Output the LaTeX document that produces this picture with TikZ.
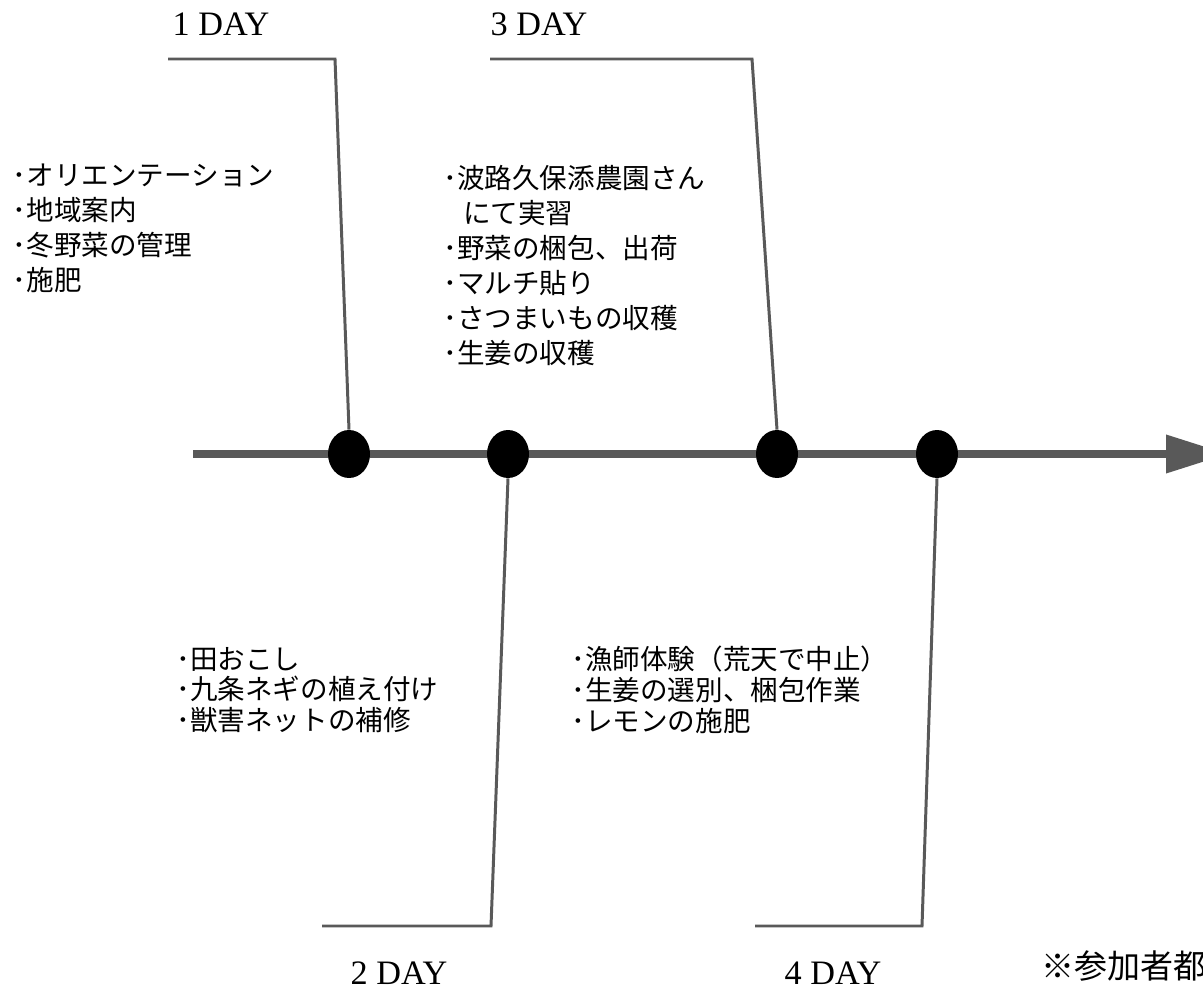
\documentclass[tikz,border=0pt]{standalone}
\usepackage{fontspec}
\setmainfont{Liberation Serif}
\newfontfamily\jp{Noto Sans CJK JP}
\usetikzlibrary{arrows.meta,shapes.geometric}
\definecolor{axisgray}{HTML}{595959}
\tikzset{
  daydot/.style={shape=ellipse, fill=black, inner sep=0pt, minimum width=0.84cm, minimum height=0.96cm},
  conn/.style={draw=axisgray, line width=1.7pt},
  timeaxis/.style={draw=axisgray, line width=4pt, -{Triangle[length=1.24cm,width=0.74cm]}},
  daylabel/.style={font=\fontsize{19.5}{23}\selectfont, inner sep=0pt},
  itemsup/.style={font=\jp\fontsize{15.7}{19.9}\selectfont, align=left, anchor=north west, inner sep=0pt},
  itemslow/.style={font=\jp\fontsize{15.7}{17.4}\selectfont, align=left, anchor=north west, inner sep=0pt},
  notetext/.style={font=\jp\fontsize{18.8}{22}\selectfont, anchor=north west, inner sep=0pt}
}
\begin{document}
\begin{tikzpicture}[x=0.02cm, y=-0.02cm]
\path[use as bounding box] (0,0) rectangle (1203,989);
\clip (0,0) rectangle (1203,989);
% axis
\coordinate (axstart) at (193,454);
\coordinate (axend) at (1228,454);
\draw[timeaxis] (axstart) -- (axend);
% dots
\node[daydot] (d1) at (349,454) {};
\node[daydot] (d2) at (508,454) {};
\node[daydot] (d3) at (777,454) {};
\node[daydot] (d4) at (937,454) {};
% connectors
\coordinate (c1a) at (168,59);
\coordinate (c1b) at (335,59);
\draw[conn] (c1a) -- (c1b) -- (d1.north);
\coordinate (c3a) at (490,59);
\coordinate (c3b) at (752,59);
\draw[conn] (c3a) -- (c3b) -- (d3.north);
\coordinate (c2b) at (491,926);
\coordinate (c2a) at (322,926);
\draw[conn] (d2.south) -- (c2b) -- (c2a);
\coordinate (c4b) at (922,926);
\coordinate (c4a) at (755,926);
\draw[conn] (d4.south) -- (c4b) -- (c4a);
% day labels
\node[daylabel] (l1) at (221,24) {1 DAY};
\node[daylabel] (l3) at (539,24) {3 DAY};
\node[daylabel] (l2) at (399,973) {2 DAY};
\node[daylabel] (l4) at (833,973) {4 DAY};
% items
\node[itemsup] (t1) at (12.5,164) {･オリエンテーション\\･地域案内\\･冬野菜の管理\\･施肥};
\node[itemsup] (t3) at (443,165) {･波路久保添農園さん\\\hspace*{0.72em}にて実習\\･野菜の梱包、出荷\\･マルチ貼り\\･さつまいもの収穫\\･生姜の収穫};
\node[itemslow] (t2) at (176,647) {･田おこし\\･九条ネギの植え付け\\･獣害ネットの補修};
\node[itemslow] (t4) at (571,646) {･漁師体験（荒天で中止）\\･生姜の選別、梱包作業\\･レモンの施肥};
% note
\node[notetext] (note) at (1041,950) {※参加者都};
\end{tikzpicture}
\end{document}
